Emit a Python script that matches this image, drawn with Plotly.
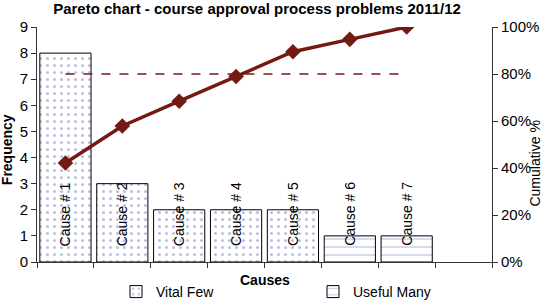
import plotly.graph_objects as go

causes = ["Cause # 1", "Cause # 2", "Cause # 3", "Cause # 4", "Cause # 5", "Cause # 6", "Cause # 7"]
frequency = [8, 3, 2, 2, 2, 1, 1]
group = ["Vital Few", "Vital Few", "Vital Few", "Vital Few", "Vital Few", "Useful Many", "Useful Many"]
threshold = 0.8

total = sum(frequency)
cum = []
s = 0
for f in frequency:
    s += f
    cum.append(s / total)

xpos = list(range(len(causes)))
FONT = "Liberation Sans, Arial, sans-serif"
RED = "#741a12"

fig = go.Figure()

vf_x = [x for x, g in zip(xpos, group) if g == "Vital Few"]
vf_y = [f for f, g in zip(frequency, group) if g == "Vital Few"]
um_x = [x for x, g in zip(xpos, group) if g == "Useful Many"]
um_y = [f for f, g in zip(frequency, group) if g == "Useful Many"]

fig.add_trace(go.Bar(
    x=vf_x, y=vf_y, name="Vital Few", width=0.9,
    marker=dict(color="white", line=dict(color="black", width=1),
                pattern=dict(shape=".", fgcolor="#7c7cc8", bgcolor="white", size=7, solidity=0.15)),
))
fig.add_trace(go.Bar(
    x=um_x, y=um_y, name="Useful Many", width=0.9,
    marker=dict(color="white", line=dict(color="black", width=1),
                pattern=dict(shape="-", fgcolor="#a6aad6", bgcolor="white", size=8, solidity=0.22)),
))
fig.add_trace(go.Scatter(
    x=[xpos[0], xpos[-1]], y=[threshold, threshold], yaxis="y2", mode="lines",
    line=dict(color=RED, width=1.5, dash="dash"), showlegend=False, hoverinfo="skip",
))
fig.add_trace(go.Scatter(
    x=xpos, y=cum, yaxis="y2", mode="lines+markers",
    line=dict(color=RED, width=3.5),
    marker=dict(symbol="diamond", size=12, color=RED),
    showlegend=False,
))

for x, c in zip(xpos, causes):
    fig.add_annotation(x=x, y=0, xref="x", yref="y", text=c, textangle=-90,
                       showarrow=False, yanchor="bottom", yshift=14,
                       font=dict(family=FONT, size=14, color="black"))

fig.add_annotation(xref="paper", yref="paper", x=-0.066, y=0.48, text="<b>Frequency</b>",
                   textangle=-90, showarrow=False, xanchor="center", yanchor="middle",
                   font=dict(family=FONT, size=14, color="black"))
fig.add_annotation(xref="paper", yref="paper", x=1.095, y=0.42, text="Cumulative %",
                   textangle=-90, showarrow=False, xanchor="center", yanchor="middle",
                   font=dict(family=FONT, size=14, color="black"))
fig.add_annotation(xref="paper", yref="paper", x=0.5, y=-0.035, text="<b>Causes</b>",
                   showarrow=False, xanchor="center", yanchor="top",
                   font=dict(family=FONT, size=14, color="black"))

bounds = [i - 0.5 for i in range(len(causes) + 2)]

fig.update_layout(
    width=551, height=308,
    margin=dict(l=37, r=59, t=27, b=46, autoexpand=False),
    paper_bgcolor="white", plot_bgcolor="white",
    barmode="overlay",
    title=dict(text="<b>Pareto chart - course approval process problems 2011/12</b>",
               x=257 / 551, xanchor="center", y=0.99, yanchor="top",
               font=dict(family=FONT, size=15, color="black")),
    font=dict(family=FONT, size=14, color="black"),
    xaxis=dict(range=[-0.5, len(causes) + 0.5], tickvals=bounds, showticklabels=False,
               ticks="outside", ticklen=5, tickcolor="#333", showline=True, linecolor="#333",
               showgrid=False, zeroline=False, fixedrange=True),
    yaxis=dict(range=[0, 9], dtick=1, ticks="outside", ticklen=5, tickcolor="#333",
               showline=True, linecolor="#333", showgrid=False, zeroline=False,
               tickfont=dict(size=15)),
    yaxis2=dict(range=[0, 1], dtick=0.2, tickformat=".0%", overlaying="y", side="right",
                ticks="outside", ticklen=5, tickcolor="#333", showline=True, linecolor="#333",
                showgrid=False, zeroline=False, tickfont=dict(size=15)),
    legend=dict(orientation="h", x=116 / 551, xref="container", xanchor="left",
                y=-0.005, yref="container", yanchor="bottom", entrywidth=152,
                font=dict(family=FONT, size=14), bgcolor="rgba(0,0,0,0)"),
    showlegend=True,
)

fig.write_html("out.html")
